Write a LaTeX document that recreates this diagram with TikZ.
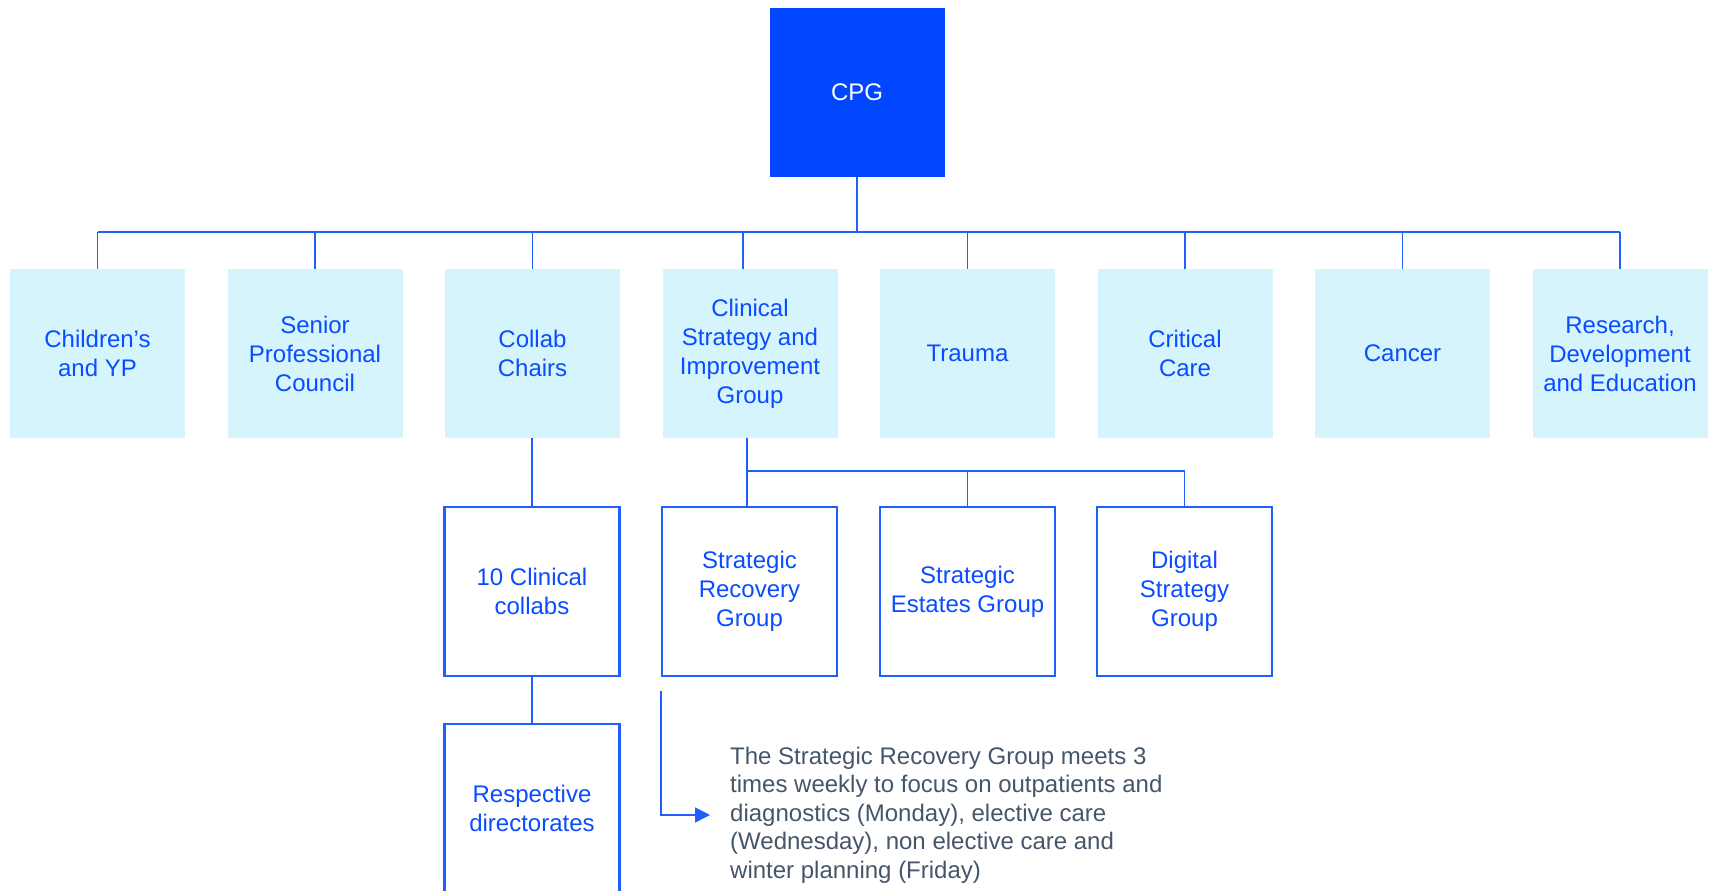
\documentclass[tikz,border=0pt]{standalone}
\usepackage{fontspec}
\setmainfont{Liberation Sans}
\usepackage{tikz}
\usetikzlibrary{arrows.meta}
\definecolor{CPGBlue}{HTML}{0047FF}
\definecolor{BoxCyan}{HTML}{D5F4FC}
\definecolor{LineBlue}{HTML}{1F5EFF}
\definecolor{LabelBlue}{HTML}{0A4CFF}
\definecolor{NoteGray}{HTML}{45566A}

\tikzset{
  board/.style={minimum width=175pt,minimum height=169pt,inner sep=2pt,
    align=center,font=\fontsize{24}{29}\selectfont},
  topbox/.style={board,fill=CPGBlue,text=white},
  groupbox/.style={board,fill=BoxCyan,text=LabelBlue},
  subbox/.style={board,draw=LineBlue,line width=2.3pt,text=LabelBlue},
  link/.style={draw=LineBlue,line width=1.3pt}
}

\begin{document}
\begin{tikzpicture}[x=1pt,y=-1pt]
  \useasboundingbox (0,0) rectangle (1710,891);

  \node[topbox] (cpg) at (857,92.5) {\raisebox{-2pt}{CPG}};

  % first tier
  \foreach \name/\label [count=\i from 0] in {
      cyp/{Children’s\\and YP},
      spc/{Senior\\Professional\\Council},
      chairs/{Collab\\Chairs},
      csig/{Clinical\\Strategy and\\Improvement\\Group},
      trauma/{Trauma},
      crit/{Critical\\Care},
      cancer/{Cancer},
      rde/{Research,\\Development\\and Education}}
    \node[groupbox] (\name) at (97.5+217.5*\i,353.5) {\label};

  % second tier
  \node[subbox] (collabs) at (532,591.5) {10 Clinical\\collabs};
  \node[subbox] (srg) at (749.5,591.5) {Strategic\\Recovery\\Group};
  \node[subbox] (seg) at (967.5,591.5) {Strategic\\Estates Group};
  \node[subbox] (dsg) at (1184.5,591.5) {Digital\\Strategy\\Group};
  \node[subbox] (dirs) at (532,808.5) {Respective\\directorates};

  \node[anchor=west,align=left,inner xsep=20pt,text=NoteGray,
    font=\fontsize{24}{28.6}\selectfont] (note) at (710,815)
    {The Strategic Recovery Group meets 3\\
     times weekly to focus on outpatients and\\
     diagnostics (Monday), elective care\\
     (Wednesday), non elective care and\\
     winter planning (Friday)};

  \coordinate (bus) at (857,232);
  \coordinate (subbus) at (747,471);
  \coordinate (memo) at (661,691);

  \draw[link] (cpg.south) -- (bus);
  \draw[link] (cyp.north |- bus) -- (rde.north |- bus);
  \foreach \name in {cyp,spc,chairs,trauma,crit,cancer,rde}
    \draw[link] (\name.north) -- (\name.north |- bus);
  \draw[link] ([xshift=-7pt]csig.north) -- ([xshift=-7pt]csig.north |- bus);

  \draw[link] (collabs.north |- chairs.south) -- (collabs.north);
  \draw[link] (collabs.south) -- (dirs.north);

  \draw[link] (subbus |- csig.south) -- (subbus) -- (dsg.north |- subbus) -- (dsg.north);
  \draw[link] (subbus) -- (subbus |- srg.north);
  \draw[link] (seg.north |- subbus) -- (seg.north);

  \draw[link,-{Triangle[length=15pt,width=15pt]}] (memo) |- (note.west);
\end{tikzpicture}
\end{document}
